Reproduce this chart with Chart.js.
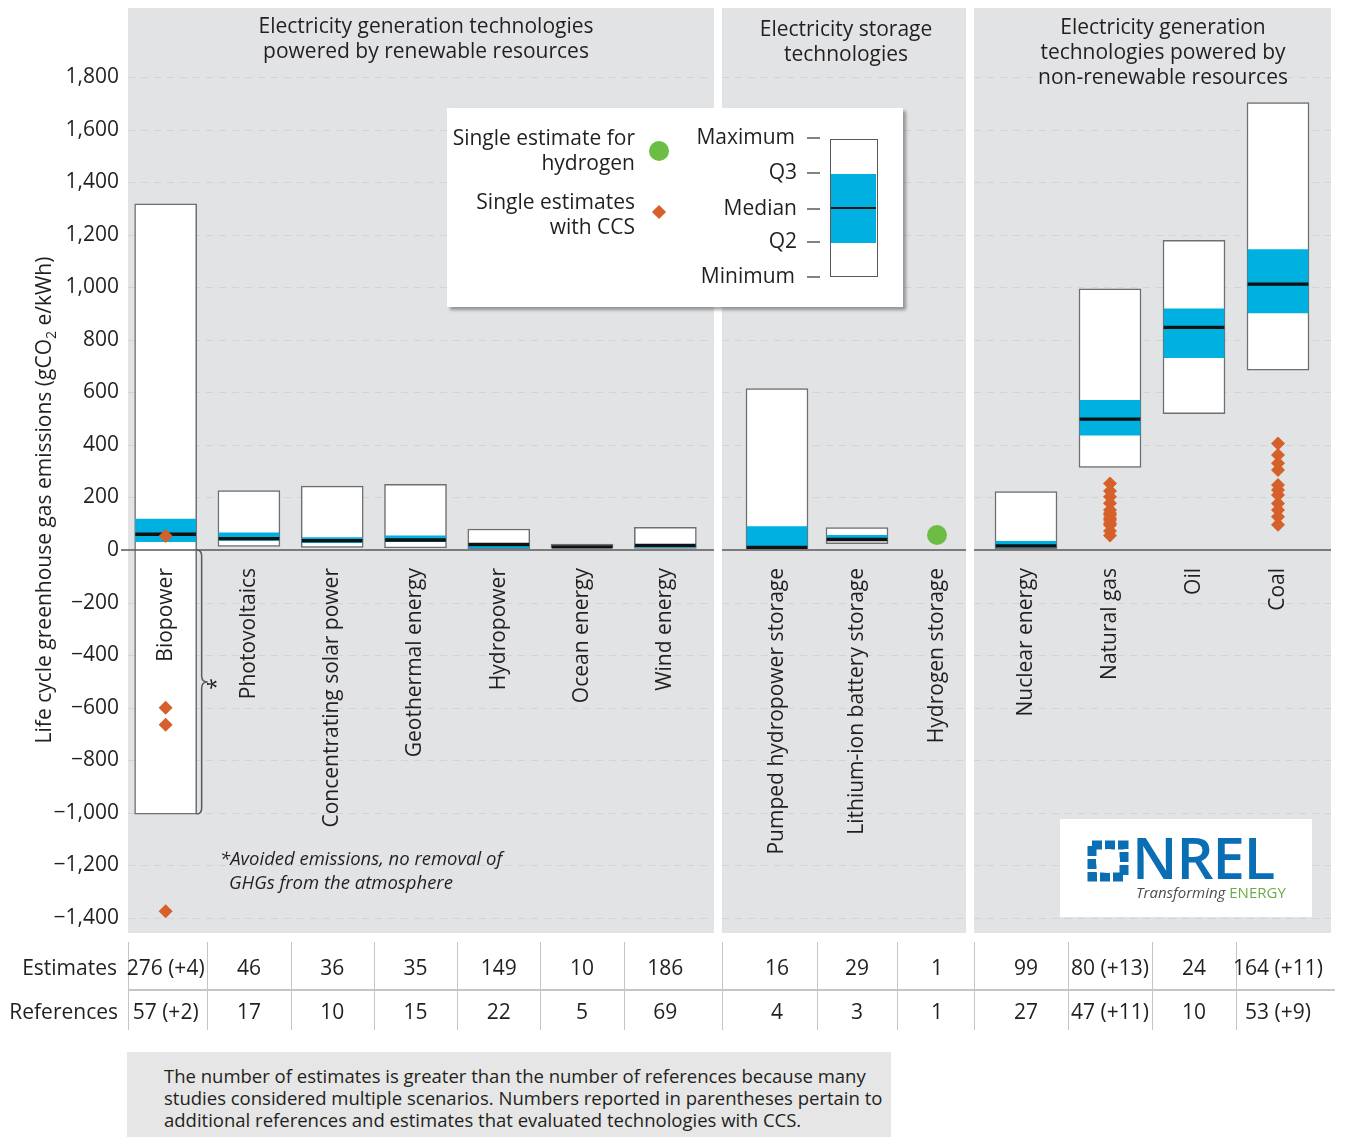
<!DOCTYPE html>
<html>
<head>
<meta charset="utf-8">
<script src="https://cdn.jsdelivr.net/npm/chart.js@4.4.1/dist/chart.umd.min.js"></script>
<style>
  body { margin: 0; background: #fff; font-family: 'Open Sans', sans-serif; color: #231f20; }
  #wrap { position: relative; width: 1346px; height: 1137px; overflow: hidden; }
  canvas { position: absolute; top: 0; }
  .legend { position: absolute; left: 447px; top: 108px; width: 456px; height: 199px; background: #fff;
            box-shadow: 3px 3px 3px rgba(0,0,0,0.35); font-size: 21px; line-height: 25px; }
  .legend div { position: absolute; }
  .lbl { text-align: right; white-space: nowrap; }
  .dash { width: 13px; height: 1.5px; background: #808285; left: 360px; }
  .nrel { position: absolute; left: 1060px; top: 819px; width: 252px; height: 98px; background: #fff; }
  .nrel div { position: absolute; white-space: nowrap; }
  .note { position: absolute; left: 127px; top: 1052px; width: 764px; height: 85px; background: #e6e6e6;
          box-sizing: border-box; padding: 13px 0 0 37px; font-size: 18.5px; line-height: 22px; }
  .avoided { position: absolute; left: 220px; top: 846px; font-size: 18.5px; line-height: 24px; font-style: italic; }
</style>
</head>
<body>
<div id="wrap">
  <canvas id="c1" width="722" height="1137" style="left:0px"></canvas>
  <canvas id="c2" width="255" height="1137" style="left:722px"></canvas>
  <canvas id="c3" width="372" height="1137" style="left:974px"></canvas>

  <div class="avoided">*Avoided emissions, no removal of<br><span style="padding-left:9px">GHGs from the atmosphere</span></div>

  <div class="legend">
    <div class="lbl" style="left:0;width:188px;top:17px">Single estimate for<br>hydrogen</div>
    <div style="left:202px;top:33px;width:20px;height:20px;border-radius:50%;background:#6cbd45"></div>
    <div class="lbl" style="left:0;width:188px;top:81px">Single estimates<br>with CCS</div>
    <div style="left:207px;top:99px;width:10px;height:10px;background:#d5602a;transform:rotate(45deg)"></div>

    <div class="lbl" style="left:0;width:348px;top:16px">Maximum</div>
    <div class="lbl" style="left:0;width:350px;top:51px">Q3</div>
    <div class="lbl" style="left:0;width:350px;top:87px">Median</div>
    <div class="lbl" style="left:0;width:350px;top:120px">Q2</div>
    <div class="lbl" style="left:0;width:348px;top:155px">Minimum</div>
    <div class="dash" style="top:29px"></div>
    <div class="dash" style="top:64px"></div>
    <div class="dash" style="top:100px"></div>
    <div class="dash" style="top:133px"></div>
    <div class="dash" style="top:168px"></div>
    <div style="left:383px;top:31px;width:48px;height:138px;box-sizing:border-box;border:1.5px solid #58595b;background:#fff">
      <div style="left:0;top:34px;width:45px;height:69px;background:#00b0e0"></div>
      <div style="left:0;top:67px;width:45px;height:2px;background:#111"></div>
    </div>
  </div>

  <div class="nrel">
    <svg style="position:absolute;left:27px;top:21px" width="42" height="42" viewBox="0 0 42 42">
      <rect x="5" y="5" width="32" height="32" fill="none" stroke="#0a6eb4" stroke-width="9" stroke-dasharray="10 3"/>
      <circle cx="21" cy="21" r="12" fill="#fff"/>
    </svg>
    <div style="left:72px;top:9px;font-size:58px;line-height:58px;font-weight:600;color:#0a6eb4;letter-spacing:-1px">NREL</div>
    <div style="left:76px;top:66px;font-size:15px;line-height:15px"><i style="color:#4d4d4f">Transforming</i> <span style="color:#6aad48">ENERGY</span></div>
  </div>

  <div class="note">The number of estimates is greater than the number of references because many<br>studies considered multiple scenarios. Numbers reported in parentheses pertain to<br>additional references and estimates that evaluated technologies with CCS.</div>
</div>

<script>
// Данные графика
const categories = ['Biopower', 'Photovoltaics', 'Concentrating solar power', 'Geothermal energy', 'Hydropower',
  'Ocean energy', 'Wind energy', 'Pumped hydropower storage', 'Lithium-ion battery storage', 'Hydrogen storage',
  'Nuclear energy', 'Natural gas', 'Oil', 'Coal'];
const minVals    = [-1005, 14, 10, 8, 5, 8, 6, 4, 24, null, 4, 314, 519, 684];
const q2Vals     = [32, 36, 28, 32, 8, 10, 10, 6, 36, null, 10, 437, 732, 902];
const medianVals = [60, 43, 36, 38, 21, 12, 18, 10, 40, null, 16, 498, 847, 1012];
const q3Vals     = [118, 65, 47, 54, 24, 15, 20, 89, 56, null, 33, 570, 918, 1143];
const maxVals    = [1317, 226, 243, 250, 80, 23, 86, 614, 85, null, 222, 994, 1178, 1703];

const ccsBiopower = [53, -600, -665, -1375];
const ccsNaturalGas = [253, 225, 203, 178, 152, 140, 133, 121, 114, 102, 95, 72, 55];
const ccsCoal = [405, 362, 330, 304, 247, 228, 209, 177, 152, 127, 96];
const hydrogenStorage = [57];

const estimates  = ['276 (+4)', '46', '36', '35', '149', '10', '186', '16', '29', '1', '99', '80 (+13)', '24', '164 (+11)'];
const references = ['57 (+2)', '17', '10', '15', '22', '5', '69', '4', '3', '1', '27', '47 (+11)', '10', '53 (+9)'];

const yTicks = [-1400, -1200, -1000, -800, -600, -400, -200, 0, 200, 400, 600, 800, 1000, 1200, 1400, 1600, 1800];

const titleRenewable = ['Electricity generation technologies', 'powered by renewable resources'];
const titleStorage = ['Electricity storage', 'technologies'];
const titleNonRenewable = ['Electricity generation', 'technologies powered by', 'non-renewable resources'];

const ccsByCategory = { 'Biopower': ccsBiopower, 'Natural gas': ccsNaturalGas, 'Coal': ccsCoal };
const h2ByCategory = { 'Hydrogen storage': hydrogenStorage };

// Раскладка панелей (пиксели страницы)
const Y_MIN = -1457.5, Y_MAX = 2062.6;
const FONT = "'Open Sans', sans-serif";
const INK = '#231f20';
const panels = [
  { id: 'c1', from: 0, to: 7, left: 0, padL: 0, padR: 15, axisW: 124, gray: [128, 714], lineTo: 722, titleX: 426, titleY: 27, title: titleRenewable },
  { id: 'c2', from: 7, to: 10, left: 722, padL: 15, padR: 0, axisW: 0, gray: [722, 966], lineTo: 974, titleX: 846, titleY: 30, title: titleStorage },
  { id: 'c3', from: 10, to: 14, left: 974, padL: 10, padR: 26, axisW: 0, gray: [974, 1331], lineTo: 1335, titleX: 1163, titleY: 28, title: titleNonRenewable },
];

const fmt = (v) => (v < 0 ? '\u2212' : '') + Math.abs(v).toLocaleString('en-US');

function makeDrawPlugin(p) {
  return {
    id: 'draw' + p.id,
    beforeDraw(chart) {
      const { ctx, chartArea: ca, scales: { y } } = chart;
      const g0 = p.gray[0] - p.left, g1 = p.gray[1] - p.left;
      ctx.save();
      ctx.fillStyle = '#e2e3e4';
      ctx.fillRect(g0, ca.top, g1 - g0, ca.bottom - ca.top);
      // пунктирная сетка
      ctx.strokeStyle = '#d2d3d5';
      ctx.lineWidth = 1;
      ctx.setLineDash([7, 6]);
      yTicks.forEach((v) => {
        if (v === 0) return;
        const py = Math.round(y.getPixelForValue(v)) + 0.5;
        ctx.beginPath(); ctx.moveTo(g0, py); ctx.lineTo(g1, py); ctx.stroke();
      });
      ctx.restore();
    },
    afterDatasetsDraw(chart) {
      const { ctx, scales: { x, y } } = chart;
      const g0 = p.gray[0] - p.left, g1 = p.gray[1] - p.left;
      const y0 = y.getPixelForValue(0);
      ctx.save();
      // нулевая линия
      ctx.strokeStyle = '#58595b';
      ctx.lineWidth = 1.5;
      ctx.beginPath(); ctx.moveTo(p.id === 'c1' ? g0 - 7 : g0, y0); ctx.lineTo(g1, y0); ctx.stroke();

      // подписи категорий
      ctx.fillStyle = INK;
      ctx.font = '21px ' + FONT;
      ctx.textAlign = 'right';
      ctx.textBaseline = 'middle';
      chart.data.labels.forEach((label, i) => {
        ctx.save();
        ctx.translate(x.getPixelForValue(i), y0 + 18);
        ctx.rotate(-Math.PI / 2);
        ctx.fillText(label, 0, 0);
        ctx.restore();
      });

      if (p.id === 'c1') {
        // фигурная скобка у биоэнергетики
        const bx = x.getPixelForValue(0) + 31;
        const yb = y.getPixelForValue(minVals[0]);
        const ym = (y0 + yb) / 2;
        ctx.strokeStyle = '#58595b';
        ctx.lineWidth = 1.5;
        ctx.beginPath();
        ctx.moveTo(bx, y0);
        ctx.quadraticCurveTo(bx + 5, y0, bx + 5, y0 + 6);
        ctx.lineTo(bx + 5, ym - 6);
        ctx.quadraticCurveTo(bx + 5, ym, bx + 11, ym);
        ctx.quadraticCurveTo(bx + 5, ym, bx + 5, ym + 6);
        ctx.lineTo(bx + 5, yb - 6);
        ctx.quadraticCurveTo(bx + 5, yb, bx, yb);
        ctx.stroke();
        ctx.save();
        ctx.translate(bx + 20, ym + 2);
        ctx.rotate(-Math.PI / 2);
        ctx.textAlign = 'center';
        ctx.fillText('*', 0, 0);
        ctx.restore();
      }
      ctx.restore();
    },
    afterDraw(chart) {
      const { ctx, scales: { x } } = chart;
      ctx.save();
      ctx.fillStyle = INK;
      ctx.font = '21px ' + FONT;
      ctx.textAlign = 'center';
      ctx.textBaseline = 'middle';
      // заголовки секций
      p.title.forEach((t, k) => ctx.fillText(t, p.titleX - p.left, p.titleY + k * 25));

      // таблица оценок и источников
      const n = chart.data.labels.length;
      const w = (x.right - x.left) / n;
      ctx.strokeStyle = '#c4c5c7';
      ctx.lineWidth = 1;
      for (let i = 0; i < n; i++) {
        const sx = i === 0 ? p.gray[0] - p.left : Math.round(x.left + i * w);
        ctx.beginPath(); ctx.moveTo(sx + 0.5, 942); ctx.lineTo(sx + 0.5, 1030); ctx.stroke();
      }
      ctx.lineWidth = 2;
      ctx.beginPath(); ctx.moveTo(p.id === 'c1' ? 128 : 0, 990); ctx.lineTo(p.lineTo - p.left, 990); ctx.stroke();
      for (let i = 0; i < n; i++) {
        const cx = x.getPixelForValue(i);
        ctx.fillText(estimates[p.from + i], cx, 969);
        ctx.fillText(references[p.from + i], cx, 1013);
      }

      if (p.id === 'c1') {
        ctx.textAlign = 'right';
        ctx.fillText('Estimates', 117, 969);
        ctx.fillText('References', 118, 1013);
        // подпись оси Y с нижним индексом
        const a = 'Life cycle greenhouse gas emissions (gCO', b = '2', c = ' e/kWh)';
        ctx.font = '21px ' + FONT;
        const wa = ctx.measureText(a).width, wc = ctx.measureText(c).width;
        ctx.font = '14px ' + FONT;
        const wb = ctx.measureText(b).width;
        const total = wa + wb + wc;
        ctx.translate(45, 500);
        ctx.rotate(-Math.PI / 2);
        ctx.textAlign = 'left';
        ctx.font = '21px ' + FONT;
        ctx.fillText(a, -total / 2, 0);
        ctx.fillText(c, -total / 2 + wa + wb, 0);
        ctx.font = '14px ' + FONT;
        ctx.fillText(b, -total / 2 + wa, 7);
      }
      ctx.restore();
    },
  };
}

function createPanelChart(p) {
  const labels = categories.slice(p.from, p.to);
  const idx = labels.map((_, i) => p.from + i);
  const range = idx.map((i) => (minVals[i] === null ? null : [minVals[i], maxVals[i]]));
  const iqr = idx.map((i) => (q2Vals[i] === null ? null : [q2Vals[i], q3Vals[i]]));
  const med = idx.map((i) => (medianVals[i] === null ? null : [medianVals[i] - 5, medianVals[i] + 5]));
  const ccs = [];
  const h2 = [];
  labels.forEach((l) => {
    (ccsByCategory[l] || []).forEach((v) => ccs.push({ x: l, y: v }));
    (h2ByCategory[l] || []).forEach((v) => h2.push({ x: l, y: v }));
  });

  new Chart(document.getElementById(p.id), {
    type: 'bar',
    data: {
      labels,
      datasets: [
        { type: 'line', data: ccs, showLine: false, pointStyle: 'rectRot', pointRadius: 7,
          pointBackgroundColor: '#d5602a', pointBorderWidth: 0, order: 0 },
        { type: 'line', data: h2, showLine: false, pointStyle: 'circle', pointRadius: 10,
          pointBackgroundColor: '#6cbd45', pointBorderWidth: 0, order: 0 },
        { data: med, backgroundColor: '#111', grouped: false, barThickness: 60, order: 1 },
        { data: iqr, backgroundColor: '#00b0e0', grouped: false, barThickness: 60, order: 2 },
        { data: range, backgroundColor: '#fff', borderColor: '#6d6e71', borderWidth: 1.5,
          borderSkipped: false, grouped: false, barThickness: 62, order: 3 },
      ],
    },
    options: {
      responsive: false,
      animation: false,
      layout: { autoPadding: false, padding: { top: 8, bottom: 204, left: p.padL, right: p.padR } },
      plugins: { legend: { display: false }, tooltip: { enabled: false } },
      scales: {
        x: { display: false, offset: true },
        y: {
          display: p.axisW > 0,
          min: Y_MIN,
          max: Y_MAX,
          afterFit: (s) => { s.width = p.axisW; s.paddingTop = 0; s.paddingBottom = 0; },
          afterBuildTicks: (s) => { s.ticks = yTicks.map((v) => ({ value: v })); },
          grid: { display: false, drawTicks: false },
          border: { display: false },
          ticks: { padding: 5, color: INK, font: { family: FONT, size: 21 }, callback: (v) => fmt(v) },
        },
      },
    },
    plugins: [makeDrawPlugin(p)],
  });
}

panels.forEach(createPanelChart);
</script>
</body>
</html>
